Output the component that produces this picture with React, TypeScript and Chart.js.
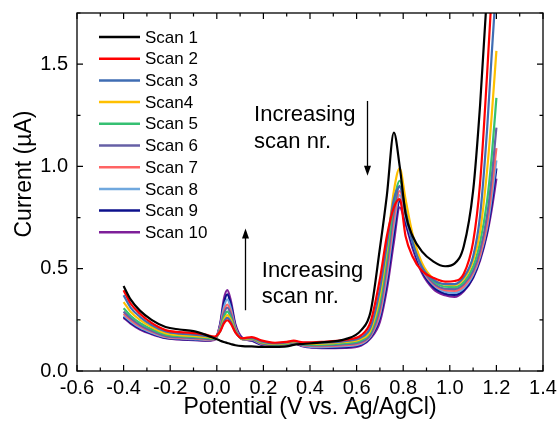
import React, { useEffect, useRef } from "react";
import { Chart, registerables } from "chart.js";

Chart.register(...registerables);

const FONT = "'Liberation Sans', Arial, sans-serif";

// Potential grid (V vs. Ag/AgCl)
const potential = [-0.4, -0.37, -0.33, -0.28, -0.22, -0.16, -0.1, -0.05, -0.01, 0.015, 0.03, 0.045, 0.06, 0.08, 0.11, 0.15, 0.19, 0.25, 0.3, 0.33, 0.37, 0.45, 0.55, 0.62, 0.66, 0.7, 0.73, 0.76, 0.785, 0.81, 0.84, 0.88, 0.93, 0.98, 1.02, 1.06, 1.1, 1.13, 1.16, 1.18, 1.2];

// Current (µA) per scan
const scan1 = [0.415, 0.35, 0.295, 0.25, 0.215, 0.203, 0.195, 0.178, 0.16, 0.148, 0.142, 0.137, 0.132, 0.126, 0.122, 0.12, 0.118, 0.118, 0.12, 0.128, 0.132, 0.14, 0.155, 0.2, 0.29, 0.6, 0.86, 1.165, 1.0, 0.77, 0.66, 0.585, 0.535, 0.512, 0.525, 0.61, 0.88, 1.3, 1.85, 2.3, 2.7];
const scan2 = [0.395, 0.33, 0.28, 0.235, 0.2, 0.19, 0.185, 0.178, 0.168, 0.195, 0.232, 0.248, 0.232, 0.188, 0.16, 0.166, 0.15, 0.138, 0.142, 0.148, 0.14, 0.143, 0.152, 0.175, 0.24, 0.45, 0.66, 0.8, 0.84, 0.66, 0.56, 0.49, 0.455, 0.437, 0.44, 0.475, 0.63, 0.92, 1.45, 1.85, 2.25];
const scan3 = [0.37, 0.31, 0.265, 0.225, 0.193, 0.182, 0.178, 0.172, 0.165, 0.196, 0.24, 0.26, 0.24, 0.19, 0.158, 0.162, 0.145, 0.135, 0.14, 0.146, 0.137, 0.138, 0.146, 0.165, 0.215, 0.4, 0.62, 0.84, 0.9, 0.78, 0.63, 0.51, 0.445, 0.425, 0.425, 0.46, 0.56, 0.76, 1.18, 1.55, 1.9];
const scan4 = [0.337, 0.29, 0.25, 0.215, 0.185, 0.175, 0.172, 0.167, 0.162, 0.197, 0.248, 0.273, 0.25, 0.193, 0.157, 0.16, 0.142, 0.132, 0.137, 0.144, 0.134, 0.134, 0.142, 0.158, 0.2, 0.37, 0.6, 0.88, 0.99, 0.84, 0.67, 0.53, 0.45, 0.422, 0.42, 0.45, 0.54, 0.68, 0.98, 1.25, 1.565];
const scan5 = [0.307, 0.27, 0.235, 0.205, 0.178, 0.17, 0.167, 0.163, 0.158, 0.203, 0.262, 0.29, 0.262, 0.197, 0.156, 0.158, 0.139, 0.129, 0.134, 0.142, 0.13, 0.129, 0.136, 0.15, 0.19, 0.34, 0.56, 0.82, 0.93, 0.81, 0.66, 0.52, 0.44, 0.412, 0.41, 0.435, 0.51, 0.63, 0.83, 1.05, 1.335];
const scan6 = [0.29, 0.258, 0.225, 0.197, 0.172, 0.165, 0.162, 0.158, 0.156, 0.21, 0.278, 0.31, 0.278, 0.203, 0.156, 0.156, 0.136, 0.126, 0.132, 0.14, 0.127, 0.125, 0.131, 0.143, 0.18, 0.31, 0.52, 0.78, 0.905, 0.79, 0.65, 0.51, 0.43, 0.402, 0.4, 0.425, 0.49, 0.59, 0.76, 0.95, 1.19];
const scan7 = [0.28, 0.25, 0.218, 0.192, 0.168, 0.162, 0.159, 0.155, 0.155, 0.216, 0.29, 0.325, 0.29, 0.207, 0.155, 0.154, 0.134, 0.124, 0.131, 0.139, 0.125, 0.121, 0.126, 0.138, 0.175, 0.29, 0.49, 0.74, 0.88, 0.77, 0.64, 0.505, 0.425, 0.395, 0.392, 0.415, 0.48, 0.57, 0.72, 0.89, 1.09];
const scan8 = [0.272, 0.243, 0.212, 0.187, 0.165, 0.159, 0.156, 0.152, 0.154, 0.222, 0.31, 0.35, 0.307, 0.213, 0.156, 0.152, 0.132, 0.122, 0.13, 0.138, 0.123, 0.117, 0.121, 0.133, 0.17, 0.275, 0.46, 0.71, 0.86, 0.75, 0.63, 0.5, 0.42, 0.387, 0.382, 0.405, 0.47, 0.56, 0.7, 0.85, 1.03];
const scan9 = [0.265, 0.237, 0.207, 0.183, 0.162, 0.156, 0.153, 0.15, 0.153, 0.228, 0.33, 0.375, 0.327, 0.22, 0.158, 0.15, 0.13, 0.121, 0.129, 0.137, 0.122, 0.114, 0.117, 0.129, 0.165, 0.26, 0.43, 0.67, 0.83, 0.73, 0.615, 0.49, 0.41, 0.378, 0.372, 0.395, 0.46, 0.55, 0.68, 0.82, 0.99];
const scan10 = [0.26, 0.232, 0.203, 0.18, 0.16, 0.154, 0.151, 0.148, 0.152, 0.235, 0.35, 0.395, 0.345, 0.228, 0.162, 0.148, 0.128, 0.12, 0.128, 0.136, 0.12, 0.112, 0.113, 0.125, 0.16, 0.24, 0.4, 0.63, 0.8, 0.72, 0.6, 0.48, 0.4, 0.37, 0.362, 0.39, 0.455, 0.54, 0.67, 0.79, 0.94];

const scanLabels = ["Scan 1", "Scan 2", "Scan 3", "Scan4", "Scan 5", "Scan 6", "Scan 7", "Scan 8", "Scan 9", "Scan 10"];
const scanColors = ["#000000", "#ff0000", "#3f6db3", "#ffc000", "#35c072", "#6660a6", "#ff6464", "#70a8de", "#0c108c", "#7e1f99"];
const scanValues = [scan1, scan2, scan3, scan4, scan5, scan6, scan7, scan8, scan9, scan10];

const annotationText = ["Increasing", "scan nr."];
const yTitle = "Current (\u00b5A)";

const decorPlugin = {
  id: "decor",
  afterDatasetsDraw(chart: any) {
    const { ctx, chartArea: a, scales } = chart;
    const xs = scales.x;
    const ys = scales.y;
    ctx.save();
    ctx.strokeStyle = "#000";
    ctx.fillStyle = "#000";
    ctx.lineWidth = 1.2;
    // ticks (inward, all four sides)
    for (let i = -6; i <= 14; i++) {
      const px = xs.getPixelForValue(i / 10);
      const len = i % 2 === 0 ? 6 : 3.5;
      ctx.beginPath();
      ctx.moveTo(px, a.bottom);
      ctx.lineTo(px, a.bottom - len);
      ctx.moveTo(px, a.top);
      ctx.lineTo(px, a.top + len);
      ctx.stroke();
    }
    for (let j = 0; j <= 7; j++) {
      const py = ys.getPixelForValue(j * 0.25);
      const len = j % 2 === 0 ? 6 : 3.5;
      ctx.beginPath();
      ctx.moveTo(a.left, py);
      ctx.lineTo(a.left + len, py);
      ctx.moveTo(a.right, py);
      ctx.lineTo(a.right - len, py);
      ctx.stroke();
    }
    ctx.lineWidth = 1.3;
    ctx.strokeRect(a.left, a.top, a.right - a.left, a.bottom - a.top);

    // y axis title
    ctx.save();
    ctx.font = "23px " + FONT;
    ctx.textAlign = "center";
    ctx.textBaseline = "middle";
    ctx.translate(a.left - 52, (a.top + a.bottom) / 2 - 18);
    ctx.rotate(-Math.PI / 2);
    ctx.fillText(yTitle, 0, 0);
    ctx.restore();

    // legend
    ctx.font = "17px " + FONT;
    ctx.textBaseline = "middle";
    ctx.textAlign = "left";
    for (let k = 0; k < scanLabels.length; k++) {
      const cy = a.top + 24 + k * 21.7;
      ctx.strokeStyle = scanColors[k];
      ctx.lineWidth = 2.5;
      ctx.beginPath();
      ctx.moveTo(a.left + 22, cy);
      ctx.lineTo(a.left + 63, cy);
      ctx.stroke();
      ctx.fillStyle = "#000";
      ctx.fillText(scanLabels[k], a.left + 68, cy + 1);
    }

    // annotations
    ctx.font = "22px " + FONT;
    ctx.fillStyle = "#000";
    ctx.textBaseline = "middle";
    const ux = xs.getPixelForValue(0.16);
    ctx.fillText(annotationText[0], ux, ys.getPixelForValue(1.252));
    ctx.fillText(annotationText[1], ux, ys.getPixelForValue(1.12));
    const lx = xs.getPixelForValue(0.193);
    ctx.fillText(annotationText[0], lx, ys.getPixelForValue(0.49));
    ctx.fillText(annotationText[1], lx, ys.getPixelForValue(0.36));

    const arrow = (xv: number, y0: number, y1: number) => {
      const px = Math.round(xs.getPixelForValue(xv)) + 0.5;
      const p0 = ys.getPixelForValue(y0);
      const p1 = ys.getPixelForValue(y1);
      const dir = p1 > p0 ? 1 : -1;
      ctx.strokeStyle = "#000";
      ctx.lineWidth = 1.3;
      ctx.beginPath();
      ctx.moveTo(px, p0);
      ctx.lineTo(px, p1 - dir * 8);
      ctx.stroke();
      ctx.beginPath();
      ctx.moveTo(px, p1);
      ctx.lineTo(px - 3.5, p1 - dir * 10);
      ctx.lineTo(px + 3.5, p1 - dir * 10);
      ctx.closePath();
      ctx.fill();
    };
    arrow(0.644, 1.32, 0.955);
    arrow(0.12, 0.297, 0.697);
    ctx.restore();
  },
};

export default function App() {
  const ref = useRef<HTMLCanvasElement | null>(null);
  useEffect(() => {
    if (!ref.current) return;
    const datasets = scanValues.map((vals, k) => ({
      label: scanLabels[k],
      data: vals.map((v, i) => ({ x: potential[i], y: v })),
      borderColor: scanColors[k],
      backgroundColor: scanColors[k],
      borderWidth: 2.2,
      pointRadius: 0,
      cubicInterpolationMode: "monotone" as const,
      fill: false,
    }));
    const chart = new Chart(ref.current, {
      type: "line",
      data: { datasets },
      options: {
        animation: false,
        responsive: false,
        devicePixelRatio: 1,
        layout: { padding: { left: 0, right: 16, top: 13, bottom: 0 } },
        plugins: { legend: { display: false }, tooltip: { enabled: false } },
        scales: {
          x: {
            type: "linear",
            min: -0.6,
            max: 1.4,
            grid: { display: false, drawTicks: false },
            border: { display: false },
            ticks: {
              stepSize: 0.2,
              includeBounds: false,
              padding: 5,
              color: "#000",
              font: { family: FONT, size: 20 },
              maxRotation: 0,
              autoSkip: false,
              callback: (v: any) => (Math.round(Number(v) * 10) / 10).toFixed(1),
            },
            title: {
              display: true,
              text: "Potential (V vs. Ag/AgCl)",
              color: "#000",
              font: { family: FONT, size: 23 },
              padding: { top: 0, bottom: 3 },
            },
            afterFit: (s: any) => {
              s.height = 53;
              s.paddingLeft = 0;
              s.paddingRight = 0;
            },
          },
          y: {
            type: "linear",
            min: 0,
            max: 1.75,
            grid: { display: false, drawTicks: false },
            border: { display: false },
            ticks: {
              stepSize: 0.5,
              includeBounds: false,
              padding: 9,
              color: "#000",
              font: { family: FONT, size: 20 },
              callback: (v: any) => (Math.round(Number(v) * 10) / 10).toFixed(1),
            },
            title: { display: false },
            afterFit: (s: any) => {
              s.width = 77;
              s.paddingTop = 0;
              s.paddingBottom = 0;
            },
          },
        },
      },
      plugins: [decorPlugin],
    });
    return () => chart.destroy();
  }, []);
  return (
    <div style={{ position: "fixed", left: 0, top: 0, width: 559, height: 424, background: "#fff" }}>
      <canvas ref={ref} width={559} height={424} style={{ display: "block" }} />
    </div>
  );
}
